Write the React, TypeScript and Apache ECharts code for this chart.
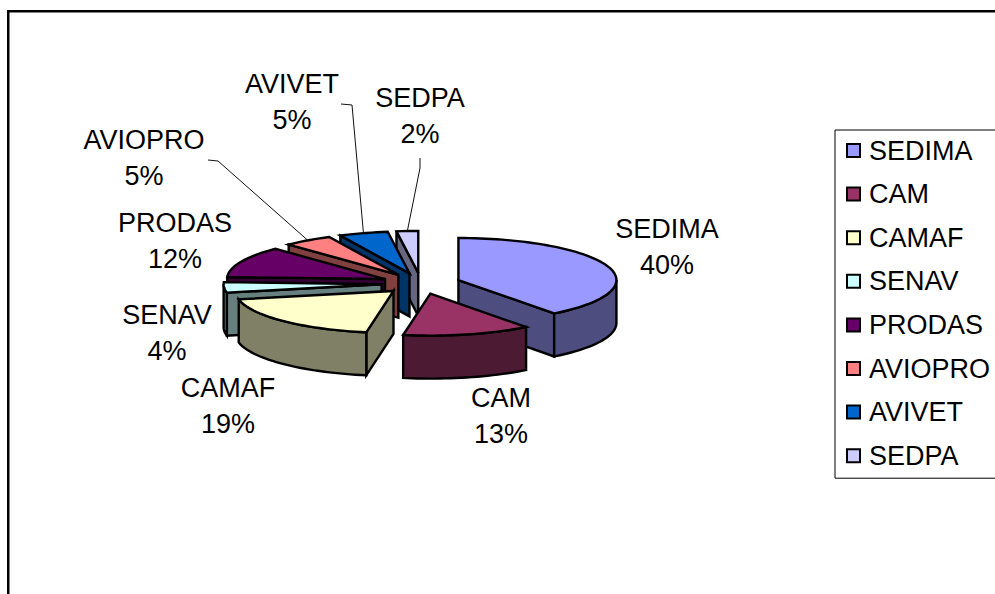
import React, { useEffect, useRef } from "react";
import * as echarts from "echarts";

const names = ["SEDIMA", "CAM", "CAMAF", "SENAV", "PRODAS", "AVIOPRO", "AVIVET", "SEDPA"];
const values = [39.6, 13.1, 19, 4, 12, 5, 5, 2.2];
const colors = ["#9999FF", "#993366", "#FFFFCC", "#CCFFFF", "#660066", "#FF8080", "#0066CC", "#CCCCFF"];
const sideColors = ["#4D4D80", "#4D1A33", "#808066", "#668080", "#330033", "#804040", "#003366", "#666680"];
// painter's order: back slices first
const paintRank = [1, 8, 7, 6, 5, 4, 3, 2];
const labelCenters = [[667, 247], [501, 416], [228, 406], [167, 333], [175, 241], [144, 158], [292, 102], [420, 116]];
const leaderElbows: Record<string, number[][]> = {
  AVIOPRO: [[208, 160], [218, 161]],
  AVIVET: [[341, 104], [352, 105]],
  SEDPA: [[420, 158], [420, 168]],
};

const FONT = "Liberation Sans";
const CX = 421, CY = 283.4, RX = 158, RY = 42, DEPTH = 43, EXPLODE = 0.25;
const total = values.reduce((a, b) => a + b, 0);
const rad = (d: number) => (d * Math.PI) / 180;

function renderSlice(i: number, value: number) {
  const before = values.slice(0, i).reduce((a, b) => a + b, 0);
  const start = (before / total) * 360;
  const end = ((before + value) / total) * 360;
  const mid = (start + end) / 2;
  const ax = CX + EXPLODE * RX * Math.sin(rad(mid));
  const ay = CY - EXPLODE * RY * Math.cos(rad(mid));
  const rim = (t: number) => [ax + RX * Math.sin(rad(t)), ay - RY * Math.cos(rad(t))];
  const down = (p: number[]) => [p[0], p[1] + DEPTH];
  const base = { stroke: "#000", lineWidth: 2.4, lineJoin: "miter" };
  const children: any[] = [];
  const side = { ...base, fill: sideColors[i] };
  const apex = [ax, ay];
  const cutFace = (t: number) => {
    const p = rim(t);
    return { type: "polygon", shape: { points: [apex, p, down(p), down(apex)] }, style: side };
  };
  if (Math.sin(rad(start)) < 0) children.push(cutFace(start));
  if (Math.sin(rad(end)) > 0) children.push(cutFace(end));
  const wallFrom = Math.max(start, 90), wallTo = Math.min(end, 270);
  if (wallTo > wallFrom) {
    const top: number[][] = [];
    for (let t = wallFrom; t < wallTo; t += 2) top.push(rim(t));
    top.push(rim(wallTo));
    children.push({
      type: "polygon",
      shape: { points: [...top, ...top.slice().reverse().map(down)] },
      style: side,
    });
  }
  const arc: number[][] = [apex];
  for (let t = start; t < end; t += 2) arc.push(rim(t));
  arc.push(rim(end));
  children.push({ type: "polygon", shape: { points: arc }, style: { ...base, fill: colors[i] } });

  const elbows = leaderElbows[names[i]];
  if (elbows) {
    children.push({
      type: "polyline",
      shape: { points: [...elbows, rim(mid)] },
      style: { stroke: "#111", lineWidth: 1, fill: "none" },
    });
  }
  children.push({
    type: "text",
    x: labelCenters[i][0],
    y: labelCenters[i][1],
    style: {
      text: `${names[i]}\n${Math.round(value)}%`,
      fill: "#000",
      fontFamily: FONT,
      fontSize: 27,
      lineHeight: 36,
      align: "center",
      verticalAlign: "middle",
    },
  });
  return { type: "group", children };
}

export default function App() {
  const ref = useRef<HTMLDivElement>(null);
  useEffect(() => {
    document.body.style.margin = "0";
    const chart = echarts.init(ref.current!, null, { renderer: "svg" });
    chart.setOption({
      animation: false,
      backgroundColor: "#fff",
      graphic: [
        {
          type: "rect",
          shape: { x: 8.25, y: 11.25, width: 1200, height: 800 },
          style: { fill: "none", stroke: "#000", lineWidth: 2.5 },
          silent: true,
        },
      ],
      legend: {
        orient: "vertical",
        left: 835,
        top: 130,
        padding: [5, 8, 7, 11],
        itemWidth: 13,
        itemHeight: 13,
        itemGap: 12.6,
        borderColor: "#000",
        borderWidth: 1,
        icon: "rect",
        selectedMode: false,
        data: names,
        itemStyle: { borderColor: "#000", borderWidth: 2 },
        textStyle: {
          color: "#000",
          fontFamily: FONT,
          fontSize: 27,
          lineHeight: 25,
          padding: [0, 0, 6, 4],
        },
      },
      series: names.map((name, i) => ({
        type: "custom",
        name,
        coordinateSystem: "none",
        z: paintRank[i] + 1,
        silent: true,
        itemStyle: { color: colors[i] },
        data: [[values[i]]],
        renderItem: (_p: any, api: any) => renderSlice(i, api.value(0)),
      })),
    });
    return () => chart.dispose();
  }, []);
  return <div ref={ref} style={{ width: 995, height: 594 }} />;
}
